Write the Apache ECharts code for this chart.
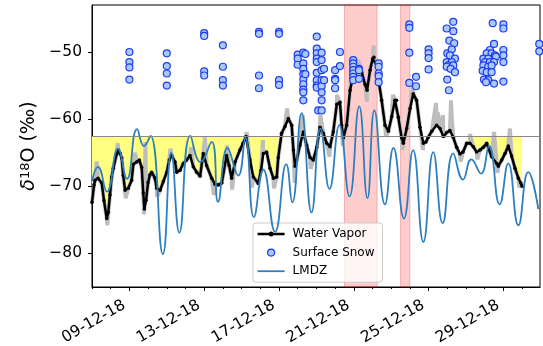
<!DOCTYPE html>
<html>
<head>
<meta charset="utf-8">
<script src="https://cdn.jsdelivr.net/npm/echarts@6/dist/echarts.min.js"></script>
<style>
  html, body { margin: 0; padding: 0; background: #fff; }
  #chart { width: 543px; height: 346px; }
</style>
</head>
<body>
<div id="chart"></div>
<script>
// all times are day-of-month in December 2018 (fractional days)
const threshold = -62.6
const dryPeriods = [[7, 17], [27, 30]]
const eventPeriods = [[20.5, 22.25], [23.5, 24.0]]
const majorTickDays = [9, 13, 17, 21, 25, 29]
const minorTickDays = [7, 8, 9, 10, 11, 12, 13, 14, 15, 16, 17, 18, 19, 20, 21, 22, 23, 24, 25, 26, 27, 28, 29, 30]
const yTicks = [-80, -70, -60, -50]

// water vapor (black)
const vaporObs = [
  [7.00, -72.4], [7.11, -69.8], [7.16, -69.1], [7.32, -68.8], [7.52, -69.5], [7.64, -72.1], [7.79, -74.8], [7.87, -73.9], [7.96, -71.3], [8.05, -68.6],
  [8.14, -67.3], [8.32, -65.2], [8.41, -64.6], [8.50, -65.1], [8.59, -65.8], [8.67, -68.4], [8.77, -70.6], [8.94, -70.3], [9.12, -69.1], [9.21, -66.7],
  [9.39, -66.4], [9.53, -66.1], [9.66, -67.2], [9.74, -71.0], [9.80, -73.4], [9.89, -72.1], [10.00, -69.4], [10.10, -68.3], [10.19, -67.9], [10.37, -68.8],
  [10.46, -70.3], [10.64, -70.6], [10.81, -69.3], [11.00, -67.9], [11.13, -66.1], [11.26, -65.4], [11.44, -66.4], [11.53, -67.9], [11.71, -67.6], [11.88, -66.6],
  [12.06, -66.1], [12.24, -65.4], [12.42, -67.1], [12.60, -67.9], [12.78, -68.5], [12.95, -65.1], [13.13, -66.9], [13.40, -68.8], [13.58, -69.7], [13.75, -69.8],
  [13.94, -69.5], [14.20, -65.4], [14.33, -66.9], [14.47, -68.8], [14.65, -66.4], [14.91, -64.6], [15.08, -63.6], [15.24, -62.6], [15.45, -66.1], [15.63, -68.6],
  [15.89, -69.6], [16.04, -67.6], [16.16, -65.1], [16.34, -64.9], [16.52, -67.3], [16.70, -68.8], [16.88, -68.6], [16.96, -65.7], [17.14, -62.1], [17.32, -61.1],
  [17.50, -59.9], [17.68, -60.9], [17.77, -64.6], [17.86, -67.0], [17.95, -66.1], [18.12, -63.9], [18.30, -61.9], [18.48, -63.9], [18.66, -65.7], [18.83, -66.1],
  [19.02, -64.2], [19.19, -61.2], [19.37, -62.1], [19.55, -63.6], [19.73, -64.1], [19.90, -61.9], [20.09, -57.8], [20.26, -57.5], [20.35, -60.9], [20.44, -62.8],
  [20.62, -60.9], [20.80, -55.7], [20.97, -53.5], [21.16, -52.3], [21.42, -53.0], [21.60, -54.8], [21.71, -55.7], [21.87, -52.7], [22.01, -51.0], [22.08, -50.8],
  [22.23, -52.0], [22.31, -53.9], [22.49, -57.2], [22.67, -60.9], [22.85, -61.8], [23.03, -59.6], [23.20, -57.2], [23.29, -57.2], [23.38, -59.7], [23.56, -62.8],
  [23.65, -63.6], [23.83, -61.4], [24.01, -58.4], [24.18, -56.2], [24.36, -57.2], [24.54, -61.2], [24.72, -63.6], [24.86, -63.4], [24.98, -62.7], [25.17, -61.8],
  [25.43, -60.9], [25.61, -61.4], [25.79, -62.6], [25.97, -62.0], [26.14, -61.7], [26.32, -62.7], [26.50, -64.2], [26.68, -65.2], [26.84, -64.9], [27.04, -63.6],
  [27.21, -63.6], [27.39, -64.1], [27.57, -64.9], [27.75, -64.6], [27.93, -64.2], [28.11, -63.6], [28.37, -65.6], [28.64, -66.6], [28.73, -67.0], [28.91, -66.1],
  [29.09, -65.1], [29.26, -64.0], [29.44, -65.5], [29.62, -67.3], [29.80, -68.8], [29.93, -69.5], [30.00, -70.0]
]

// excursions of the raw record (grey) away from the averaged vapor line
const rawSpikes = [
  [7.25, -66.3], [7.82, -75.8], [8.38, -63.6], [8.80, -71.8], [9.30, -65.0], [9.78, -74.2], [9.86, -63.4], [10.48, -71.6],
  [11.20, -64.4], [12.30, -64.2], [13.04, -62.7], [13.52, -71.3], [14.22, -63.9], [14.49, -70.5], [15.27, -61.9], [15.56, -70.2],
  [16.14, -63.1], [16.73, -70.3], [17.43, -58.4], [17.84, -69.5], [18.28, -59.4], [18.70, -67.4], [19.21, -59.4], [19.70, -65.6],
  [20.10, -56.4], [20.42, -64.0], [20.90, -52.0], [21.23, -51.2], [21.70, -57.4], [22.06, -49.0], [22.72, -62.6], [23.10, -56.4],
  [23.60, -64.6], [24.17, -55.0], [24.70, -64.6], [25.40, -57.6], [25.50, -59.0], [25.70, -61.9], [25.77, -59.4], [26.20, -57.2],
  [26.25, -60.0], [26.72, -66.3], [27.21, -62.2], [27.60, -66.0], [28.50, -61.9], [28.68, -68.0], [29.35, -61.4], [29.85, -70.2]
]

// LMDZ model (blue), turning points of the daily cycle
const lmdzObs = [
  [7.00, -69.2], [7.32, -67.1], [7.80, -70.8], [8.39, -64.4], [8.87, -68.9], [9.41, -61.5], [9.78, -64.0], [10.13, -62.5], [10.79, -80.1], [11.24, -65.0],
  [11.67, -76.9], [12.26, -62.5], [12.80, -66.4], [13.40, -63.4], [13.74, -72.3], [14.25, -64.3], [14.82, -68.4], [15.20, -62.8], [15.66, -74.6], [16.16, -67.5],
  [16.79, -76.8], [17.39, -66.7], [17.71, -72.4], [18.21, -59.1], [18.74, -73.9], [19.22, -61.4], [19.70, -70.4], [20.23, -60.9], [20.77, -71.5], [21.29, -58.1],
  [21.73, -71.8], [22.10, -58.7], [22.67, -72.7], [23.12, -64.3], [23.68, -74.8], [24.17, -64.6], [24.72, -78.3], [25.25, -64.9], [25.75, -75.5], [26.32, -65.1],
  [26.84, -69.0], [27.29, -66.0], [27.80, -68.1], [28.23, -64.0], [28.80, -72.7], [29.26, -66.6], [29.80, -75.8], [30.33, -67.9], [30.87, -73.4]
]

// surface snow samples
const snowObs = [
  [9.00, -50.0], [9.00, -51.5], [9.00, -52.3], [9.00, -54.1],
  [11.00, -50.2], [11.00, -52.1], [11.00, -53.2], [11.00, -55.0],
  [13.00, -47.2], [13.00, -47.6], [13.00, -52.9], [13.00, -53.5],
  [14.00, -49.0], [14.00, -52.2], [14.00, -54.2], [14.00, -55.0],
  [15.93, -47.0], [15.93, -47.3], [15.93, -53.5], [15.93, -55.4],
  [17.00, -47.0], [17.00, -47.3], [17.00, -54.2], [17.00, -54.9],
  [18.00, -50.4], [18.00, -51.0], [18.00, -51.9],
  [18.30, -50.1], [18.30, -51.7], [18.30, -52.5], [18.30, -53.3], [18.30, -54.1], [18.30, -54.8], [18.30, -55.6], [18.30, -56.0], [18.30, -57.2],
  [18.41, -50.3], [18.41, -53.3],
  [19.02, -47.7], [19.02, -49.5], [19.02, -50.2], [19.02, -51.0], [19.02, -51.5], [19.02, -53.1], [19.02, -54.2], [19.02, -55.0], [19.02, -55.3],
  [19.10, -58.7],
  [19.28, -50.1], [19.28, -51.2], [19.28, -52.7], [19.28, -54.2], [19.28, -55.1], [19.28, -56.0], [19.28, -57.2], [19.28, -58.7],
  [19.41, -52.5], [19.41, -54.2],
  [20.00, -52.7], [20.00, -54.0], [20.00, -54.2], [20.00, -55.4],
  [20.26, -50.0], [20.26, -52.1],
  [20.97, -51.2], [20.97, -51.7], [20.97, -52.2], [20.97, -52.7], [20.97, -53.2], [20.97, -53.7], [20.97, -54.2],
  [21.28, -52.5], [21.28, -52.7], [21.28, -54.0],
  [22.33, -51.7], [22.33, -52.2], [22.33, -53.2], [22.33, -53.6], [22.33, -54.5],
  [23.97, -45.9], [23.97, -46.4], [23.97, -50.1], [23.97, -54.6],
  [24.33, -53.7], [24.33, -55.1],
  [25.00, -49.6], [25.00, -50.2], [25.00, -50.9], [25.00, -52.6],
  [26.32, -45.5], [25.97, -46.5], [26.32, -46.9], [26.11, -48.3], [26.37, -48.7], [26.00, -50.2], [26.24, -49.6], [26.14, -50.5], [26.41, -51.0],
  [25.97, -51.5], [26.24, -51.5], [26.05, -52.0], [26.32, -52.0], [25.97, -52.2], [26.18, -52.5], [26.41, -53.0], [26.00, -54.1], [26.09, -55.7],
  [28.43, -45.7], [28.50, -48.8], [28.28, -49.7], [28.11, -50.2], [28.37, -50.2], [28.55, -50.5], [27.93, -51.0], [28.19, -51.0], [28.60, -50.7],
  [28.02, -51.5], [28.28, -51.5], [28.50, -51.5], [27.93, -52.0], [28.19, -52.2], [28.37, -52.0], [27.89, -52.8], [28.11, -53.0], [28.37, -53.0],
  [27.96, -54.1], [28.19, -54.2], [28.07, -54.5], [28.50, -54.7],
  [29.00, -45.9], [29.00, -46.5], [29.00, -49.7], [29.00, -50.5], [29.00, -51.5], [29.00, -54.4],
  [30.92, -48.8], [30.92, -49.9]
]

const DAY = 86400000
const T0 = new Date(2018, 10, 30).getTime()
const toTime = d => T0 + d * DAY
const asSeries = obs => obs.map(p => [toTime(p[0]), p[1]])
const pad = n => (n < 10 ? '0' : '') + n
const FONT = 'DejaVu Sans'
const X_MIN = toTime(7)
const X_MAX = toTime(30 + 23 / 24)

const rawObs = vaporObs.concat(rawSpikes).sort((a, b) => a[0] - b[0])

const chart = echarts.init(document.getElementById('chart'))

const option = {
  animation: false,
  grid: {
    left: 92, right: 3, top: 5, bottom: 59,
    show: true, borderColor: '#000', borderWidth: 1,
    containLabel: false, outerBoundsMode: 'none'
  },
  legend: {
    data: [
      { name: 'Water Vapor', icon: 'path://M0,0M27,14M0,5.8h27v2.4h-27zM11,7a2.5,2.5,0,1,1,5,0a2.5,2.5,0,1,1,-5,0z', itemStyle: { borderWidth: 0 } },
      { name: 'Surface Snow', icon: 'path://M0,0M27,14M10,7a3.5,3.5,0,1,1,7,0a3.5,3.5,0,1,1,-7,0z', itemStyle: { borderWidth: 1.2, borderColor: '#1f3cf0', color: '#a8c8f8' } },
      { name: 'LMDZ', icon: 'path://M0,0M27,14M0,6.1h27v1.8h-27z', itemStyle: { borderWidth: 0 } }
    ],
    orient: 'vertical', left: 253, top: 223,
    itemWidth: 27, itemHeight: 14, itemGap: 4,
    padding: [4, 8, 4, 4],
    backgroundColor: 'rgba(255,255,255,0.8)', borderColor: '#cccccc', borderWidth: 1, borderRadius: 3,
    textStyle: { fontFamily: FONT, fontSize: 12, color: '#000', padding: [0, 0, 0, 3] },
    selectedMode: false
  },
  xAxis: [
    {
      type: 'value', position: 'bottom',
      min: X_MIN, max: X_MAX,
      axisLine: { show: true, onZero: false, lineStyle: { color: '#000', width: 1 } },
      axisTick: { show: true, customValues: majorTickDays.map(toTime), length: 4, lineStyle: { color: '#000' } },
      axisLabel: {
        customValues: majorTickDays.map(toTime),
        rotate: 30, margin: 14, padding: [0, 6, 0, 0],
        fontFamily: FONT, fontSize: 15.5, color: '#000',
        formatter: v => {
          const d = new Date(v)
          return pad(d.getDate()) + '-' + pad(d.getMonth() + 1) + '-' + String(d.getFullYear()).slice(2)
        }
      },
      splitLine: { show: false }
    },
    {
      type: 'value', position: 'bottom', gridIndex: 0,
      min: X_MIN, max: X_MAX,
      axisLine: { show: false, onZero: false },
      axisTick: { show: true, customValues: minorTickDays.map(toTime), length: 2, lineStyle: { color: '#000' } },
      axisLabel: { show: false },
      splitLine: { show: false }
    }
  ],
  yAxis: {
    type: 'value', min: -85, max: -43,
    axisLine: { show: true, lineStyle: { color: '#000', width: 1 } },
    axisTick: { show: true, customValues: yTicks, length: 4, lineStyle: { color: '#000' } },
    axisLabel: {
      customValues: yTicks, margin: 10,
      fontFamily: FONT, fontSize: 15.5, color: '#000',
      formatter: v => (v < 0 ? '\u2212' : '') + Math.abs(v)
    },
    splitLine: { show: false },
    name: '{a|δ}{b|18}{c|O (‰)}',
    nameLocation: 'middle', nameRotate: 90, nameGap: 50,
    nameTextStyle: {
      fontFamily: FONT, fontSize: 19, color: '#000',
      rich: {
        a: { fontFamily: FONT, fontSize: 19, fontStyle: 'italic', color: '#000' },
        b: { fontFamily: FONT, fontSize: 13, verticalAlign: 'top', color: '#000' },
        c: { fontFamily: FONT, fontSize: 19, color: '#000' }
      }
    }
  },
  series: [
    {
      // yellow fill between the threshold and the vapor line in the dry periods
      type: 'custom', name: 'dry', silent: true, z: 1,
      data: dryPeriods.map(p => [toTime(p[0]), toTime(p[1]), threshold]),
      encode: { x: [0, 1], y: 2 },
      renderItem: (params, api) => {
        const per = dryPeriods[params.dataIndex]
        const pts = vaporObs.filter(p => p[0] >= per[0] && p[0] <= per[1])
        const poly = pts.map(p => api.coord([toTime(p[0]), p[1]]))
        poly.push(api.coord([toTime(pts[pts.length - 1][0]), threshold]))
        poly.push(api.coord([toTime(pts[0][0]), threshold]))
        return { type: 'polygon', shape: { points: poly }, style: { fill: '#ffff80', stroke: null } }
      }
    },
    {
      type: 'line', name: 'raw', data: asSeries(rawObs),
      symbol: 'none', lineStyle: { color: '#bdbdbd', width: 4 }, itemStyle: { color: '#bdbdbd' },
      silent: true, z: 2,
      markArea: {
        silent: true,
        itemStyle: { color: 'rgba(255,0,0,0.2)', borderColor: 'rgba(230,0,0,0.25)', borderWidth: 1 },
        data: eventPeriods.map(p => [{ xAxis: toTime(p[0]) }, { xAxis: toTime(p[1]) }])
      },
      markLine: {
        silent: true, symbol: ['none', 'none'], label: { show: false },
        lineStyle: { color: '#888888', width: 1, type: 'solid' },
        data: [{ yAxis: threshold }]
      }
    },
    {
      type: 'line', name: 'Water Vapor', data: asSeries(vaporObs),
      symbol: 'circle', symbolSize: 3.5, showSymbol: true,
      lineStyle: { color: '#000', width: 2.5 }, itemStyle: { color: '#000', borderWidth: 0 },
      z: 3
    },
    {
      type: 'line', name: 'LMDZ', data: asSeries(lmdzObs),
      smooth: 0.5, symbol: 'none',
      lineStyle: { color: '#2f7fbf', width: 1.8 }, itemStyle: { color: '#2f7fbf' },
      z: 4
    },
    {
      type: 'scatter', name: 'Surface Snow', data: asSeries(snowObs),
      symbol: 'circle', symbolSize: 7,
      itemStyle: { color: '#a8c8f8', borderColor: '#1f3cf0', borderWidth: 1.2, opacity: 1 },
      z: 5
    }
  ]
}

chart.setOption(option)
</script>
</body>
</html>
